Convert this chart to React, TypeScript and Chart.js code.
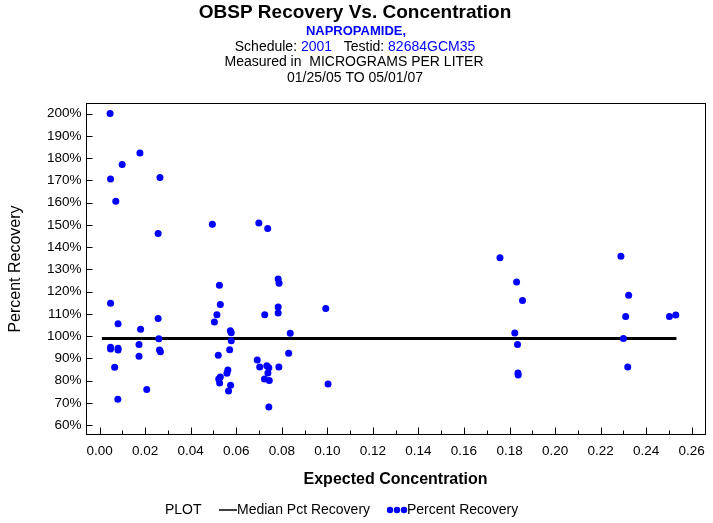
import React, { useEffect, useRef } from 'react';
import { Chart, registerables } from 'chart.js';

Chart.register(...registerables);

const FONT = '"Liberation Sans", Arial, sans-serif';

// Tick values
const xTickValues = [0, 0.02, 0.04, 0.06, 0.08, 0.1, 0.12, 0.14, 0.16, 0.18, 0.2, 0.22, 0.24, 0.26];
const xMinorTickValues = [0.01, 0.03, 0.05, 0.07, 0.09, 0.11, 0.13, 0.15, 0.17, 0.19, 0.21, 0.23, 0.25];
const yTickValues = [60, 70, 80, 90, 100, 110, 120, 130, 140, 150, 160, 170, 180, 190, 200];

// Percent Recovery series (Expected Concentration, Percent Recovery)
const recoveryX = [
  0.0046, 0.0177, 0.0099, 0.0048, 0.0265, 0.0071, 0.0257, 0.0048, 0.0081, 0.0257,
  0.0180, 0.0260, 0.0048, 0.0048, 0.0081, 0.0081, 0.0173, 0.0173, 0.0263, 0.0267,
  0.0066, 0.0207, 0.0080,
  0.0495, 0.0699, 0.0738, 0.0526, 0.0784, 0.0788, 0.0530, 0.0515, 0.0504, 0.0725,
  0.0784, 0.0784, 0.0993, 0.0574, 0.0578, 0.0837, 0.0578, 0.0571, 0.0521, 0.0830,
  0.0692, 0.0703, 0.0734, 0.0743, 0.0787, 0.0739, 0.0563, 0.0559, 0.0530, 0.0523,
  0.0527, 0.0724, 0.0745, 0.0575, 0.0566, 0.1003, 0.0743,
  0.1758, 0.1831, 0.1857, 0.1823, 0.1835, 0.1837, 0.1838,
  0.2289, 0.2323, 0.2310, 0.2300, 0.2319, 0.2502, 0.2530,
];
const recoveryY = [
  200.1, 182.3, 177.2, 170.6, 171.3, 160.7, 146.1, 114.8, 105.6, 107.9,
  103.1, 98.8, 95.0, 94.2, 94.6, 93.8, 96.3, 91.0, 93.8, 93.0,
  86.0, 76.0, 71.7,
  150.3, 150.9, 148.4, 122.9, 125.7, 123.8, 114.3, 109.6, 106.4, 109.6,
  113.1, 110.4, 112.4, 102.4, 101.5, 101.3, 97.9, 93.9, 91.4, 92.3,
  89.3, 86.2, 86.7, 85.8, 86.2, 83.5, 84.8, 83.3, 81.7, 80.8,
  79.0, 80.8, 80.1, 78.0, 75.4, 78.5, 68.2,
  135.3, 124.4, 116.1, 101.4, 96.3, 83.5, 82.6,
  135.9, 118.4, 108.9, 99.0, 86.2, 108.9, 109.5,
];

// Median Pct Recovery line
const medianX = [0.001, 0.2533];
const medianY = [99, 99];

const decorPlugin = {
  id: 'decor',
  afterDraw(chart: any) {
    const ctx = chart.ctx as CanvasRenderingContext2D;
    const { left, right, top, bottom } = chart.chartArea;
    const xs = chart.scales.x;
    const ys = chart.scales.y;
    ctx.save();
    ctx.strokeStyle = '#000';
    ctx.lineWidth = 1;
    const L = Math.round(left) + 0.5;
    const R = Math.round(right) - 0.5;
    const T = Math.round(top) + 0.5;
    const B = Math.round(bottom) - 0.5;
    ctx.strokeRect(L, T, R - L, B - T);
    ctx.beginPath();
    for (const v of xTickValues) {
      const px = Math.round(xs.getPixelForValue(v)) + 0.5;
      ctx.moveTo(px, B);
      ctx.lineTo(px, B - 7);
    }
    for (const v of xMinorTickValues) {
      const px = Math.round(xs.getPixelForValue(v)) + 0.5;
      ctx.moveTo(px, B);
      ctx.lineTo(px, B - 4);
    }
    for (const v of yTickValues) {
      const py = Math.round(ys.getPixelForValue(v)) + 0.5;
      ctx.moveTo(L, py);
      ctx.lineTo(L + 6, py);
    }
    ctx.stroke();

    // Titles
    ctx.textBaseline = 'middle';
    ctx.textAlign = 'center';
    ctx.fillStyle = '#000';
    ctx.font = `bold 19px ${FONT}`;
    ctx.fillText('OBSP Recovery Vs. Concentration', 355, 13);
    ctx.fillStyle = '#0000ff';
    ctx.font = `bold 13px ${FONT}`;
    ctx.fillText('NAPROPAMIDE,', 356, 31);

    ctx.font = `14px ${FONT}`;
    const parts: [string, string][] = [
      ['Schedule: ', '#000'],
      ['2001', '#0000ff'],
      ['   Testid: ', '#000'],
      ['82684GCM35', '#0000ff'],
    ];
    const total = parts.reduce((s, p) => s + ctx.measureText(p[0]).width, 0);
    let cx = 355 - total / 2;
    ctx.textAlign = 'left';
    for (const [t, c] of parts) {
      ctx.fillStyle = c;
      ctx.fillText(t, cx, 47.5);
      cx += ctx.measureText(t).width;
    }
    ctx.textAlign = 'center';
    ctx.fillStyle = '#000';
    ctx.fillText('Measured in  MICROGRAMS PER LITER', 354, 62.5);
    ctx.fillText('01/25/05 TO 05/01/07', 355, 78);

    // Axis titles
    ctx.font = `bold 16px ${FONT}`;
    ctx.fillText('Expected Concentration', (left + right) / 2, 480);
    ctx.save();
    ctx.translate(16, (top + bottom) / 2);
    ctx.rotate(-Math.PI / 2);
    ctx.font = `16px ${FONT}`;
    ctx.fillText('Percent Recovery', 0, 0);
    ctx.restore();

    // Legend
    const ly = 510;
    ctx.font = `14px ${FONT}`;
    ctx.textAlign = 'left';
    ctx.fillStyle = '#000';
    ctx.fillText('PLOT', 165, ly);
    ctx.beginPath();
    ctx.lineWidth = 1.5;
    ctx.moveTo(219, ly);
    ctx.lineTo(237, ly);
    ctx.stroke();
    ctx.fillText('Median Pct Recovery', 237, ly);
    ctx.fillStyle = '#0000ff';
    for (const dx of [390, 397, 404]) {
      ctx.beginPath();
      ctx.arc(dx, ly, 3.2, 0, Math.PI * 2);
      ctx.fill();
    }
    ctx.fillStyle = '#000';
    ctx.fillText('Percent Recovery', 407, ly);
    ctx.restore();
  },
};

export default function App() {
  const canvasRef = useRef<HTMLCanvasElement | null>(null);

  useEffect(() => {
    if (!canvasRef.current) return;
    const chart = new Chart(canvasRef.current, {
      type: 'scatter',
      data: {
        datasets: [
          {
            label: 'Percent Recovery',
            data: recoveryX.map((x, i) => ({ x, y: recoveryY[i] })),
            backgroundColor: '#0000ff',
            borderColor: '#0000ff',
            pointRadius: 3.5,
            pointBorderWidth: 0,
            showLine: false,
          },
          {
            label: 'Median Pct Recovery',
            data: medianX.map((x, i) => ({ x, y: medianY[i] })),
            borderColor: '#000',
            backgroundColor: '#000',
            borderWidth: 3,
            pointRadius: 0,
            showLine: true,
          },
        ],
      },
      options: {
        animation: false,
        responsive: false,
        devicePixelRatio: 1,
        layout: { padding: { top: 103, right: 6, left: 0, bottom: 0 } },
        plugins: {
          legend: { display: false },
          tooltip: { enabled: false },
          title: { display: false },
        },
        events: [],
        scales: {
          x: {
            type: 'linear',
            min: -0.0062,
            max: 0.2661,
            grid: { display: false, drawTicks: false },
            border: { display: false },
            afterBuildTicks: (scale: any) => {
              scale.ticks = xTickValues.map((v) => ({ value: v }));
            },
            afterFit: (scale: any) => {
              scale.height = 88;
            },
            ticks: {
              autoSkip: false,
              maxRotation: 0,
              padding: 8,
              color: '#000',
              font: { family: FONT, size: 13.5 },
              callback: (v: any) => Number(v).toFixed(2),
            },
          },
          y: {
            type: 'linear',
            min: 55.6,
            max: 204.8,
            grid: { display: false, drawTicks: false },
            border: { display: false },
            afterBuildTicks: (scale: any) => {
              scale.ticks = yTickValues.map((v) => ({ value: v }));
            },
            afterFit: (scale: any) => {
              scale.width = 85.5;
            },
            ticks: {
              autoSkip: false,
              padding: 4,
              color: '#000',
              font: { family: FONT, size: 13.5 },
              callback: (v: any) => `${v}%`,
            },
          },
        },
      },
      plugins: [decorPlugin],
    } as any);
    return () => chart.destroy();
  }, []);

  return (
    <div style={{ position: 'absolute', left: 0, top: 0, width: 713, height: 523, background: '#fff' }}>
      <canvas ref={canvasRef} width={713} height={523} style={{ display: 'block' }} />
    </div>
  );
}
